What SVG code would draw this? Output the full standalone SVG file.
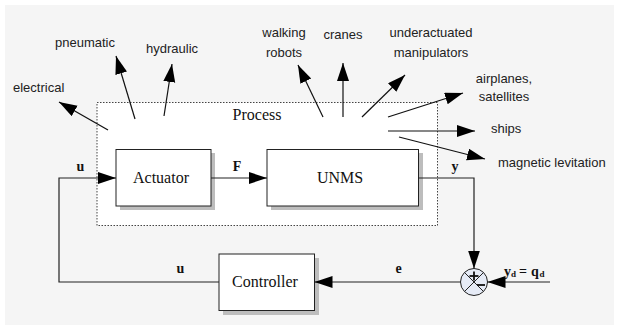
<svg xmlns="http://www.w3.org/2000/svg" width="619" height="330" viewBox="0 0 619 330">
<defs>
<style>
.bg{fill:#f5f5f5}
.box{fill:#fff;stroke:#222;stroke-width:1}
.shadow{fill:#bdbdbd}
.ln{fill:none;stroke:#222;stroke-width:1.2}
.ar{fill:none;stroke:#111;stroke-width:1.2}
.sans{font-family:"Liberation Sans",Arial,sans-serif;font-size:13px;fill:#222}
.serif{font-family:"Liberation Serif","Times New Roman",serif;font-size:16px;fill:#111}
.bold{font-family:"Liberation Serif","Times New Roman",serif;font-size:14px;font-weight:bold;fill:#111}
.sub{font-family:"Liberation Serif","Times New Roman",serif;font-size:9px;font-weight:bold;fill:#111}
</style>
<marker id="ah" markerUnits="userSpaceOnUse" markerWidth="19" markerHeight="13" refX="18" refY="6" orient="auto">
<path d="M0,0 L18,6 L0,12 z" fill="#000"/>
</marker>
</defs>
<rect class="bg" x="5" y="5" width="609" height="320"/>

<g id="process">
<rect x="97" y="102.5" width="340.5" height="123" fill="#fff" stroke="#444" stroke-width="1" stroke-dasharray="1.5,1.5"/>
<text class="serif" x="257" y="120" text-anchor="middle">Process</text>
</g>

<g id="actuator">
<rect class="shadow" x="120" y="153" width="95" height="57"/>
<rect class="box" x="116" y="149.5" width="95" height="56.5"/>
<text class="serif" x="161" y="183" text-anchor="middle">Actuator</text>
</g>

<g id="unms">
<rect class="shadow" x="271" y="153" width="152" height="57"/>
<rect class="box" x="267" y="149.5" width="151.5" height="56.5"/>
<text class="serif" x="340" y="183" text-anchor="middle">UNMS</text>
</g>

<g id="controller">
<rect class="shadow" x="223" y="258" width="96" height="57"/>
<rect class="box" x="219" y="254" width="95.5" height="56.5"/>
<text class="serif" x="265" y="287" text-anchor="middle">Controller</text>
</g>

<g id="sum">
<circle cx="474" cy="282" r="13.5" fill="#e6ebf6" stroke="#222" stroke-width="1"/>
<line x1="464.5" y1="272.5" x2="483.5" y2="291.5" stroke="#222" stroke-width="1"/>
<line x1="483.5" y1="272.5" x2="464.5" y2="291.5" stroke="#222" stroke-width="1"/>
<line x1="469.5" y1="276" x2="478.5" y2="276" stroke="#111" stroke-width="1.8"/>
<line x1="474" y1="271.5" x2="474" y2="280.5" stroke="#111" stroke-width="1.8"/>
<line x1="477" y1="285" x2="485" y2="285" stroke="#111" stroke-width="1.8"/>
</g>

<g id="connectors">
<polyline class="ln" points="219,282 59,282 59,178 116,178" marker-end="url(#ah)"/>
<line class="ln" x1="211" y1="178" x2="267" y2="178" marker-end="url(#ah)"/>
<polyline class="ln" points="418.5,178 474,178 474,268.5" marker-end="url(#ah)"/>
<line class="ln" x1="550" y1="282" x2="487.5" y2="282" marker-end="url(#ah)"/>
<line class="ln" x1="460.5" y1="282" x2="314.5" y2="282" marker-end="url(#ah)"/>

<line class="ar" x1="108" y1="130" x2="59" y2="102" marker-end="url(#ah)"/>
<line class="ar" x1="135" y1="119" x2="116" y2="56" marker-end="url(#ah)"/>
<line class="ar" x1="164" y1="116" x2="172" y2="64" marker-end="url(#ah)"/>
<line class="ar" x1="323" y1="117" x2="298" y2="65" marker-end="url(#ah)"/>
<line class="ar" x1="343" y1="117" x2="343" y2="63" marker-end="url(#ah)"/>
<line class="ar" x1="362" y1="117" x2="405" y2="75" marker-end="url(#ah)"/>
<line class="ar" x1="388" y1="117" x2="463" y2="93" marker-end="url(#ah)"/>
<line class="ar" x1="388" y1="131" x2="475" y2="131" marker-end="url(#ah)"/>
<line class="ar" x1="399" y1="137" x2="485" y2="159" marker-end="url(#ah)"/>
</g>

<g id="labels">
<text class="sans" x="13" y="92">electrical</text>
<text class="sans" x="55" y="47">pneumatic</text>
<text class="sans" x="146" y="53">hydraulic</text>
<text class="sans" x="284" y="37" text-anchor="middle">walking</text>
<text class="sans" x="284" y="56.5" text-anchor="middle">robots</text>
<text class="sans" x="343" y="39" text-anchor="middle">cranes</text>
<text class="sans" x="431" y="37" text-anchor="middle">underactuated</text>
<text class="sans" x="431" y="57" text-anchor="middle">manipulators</text>
<text class="sans" x="504" y="83" text-anchor="middle">airplanes,</text>
<text class="sans" x="504" y="101" text-anchor="middle">satellites</text>
<text class="sans" x="491" y="133">ships</text>
<text class="sans" x="498" y="167">magnetic levitation</text>

<text class="bold" x="80.5" y="171" text-anchor="middle">u</text>
<text class="bold" x="237" y="171" text-anchor="middle">F</text>
<text class="bold" x="455" y="171" text-anchor="middle">y</text>
<text class="bold" x="180.5" y="273" text-anchor="middle">u</text>
<text class="bold" x="398.5" y="273" text-anchor="middle">e</text>
<text class="bold" x="504" y="276">y</text>
<text class="sub" x="511" y="277">d</text>
<text class="bold" x="519" y="276">=</text>
<text class="bold" x="531" y="276">q</text>
<text class="sub" x="539.5" y="277">d</text>
</g>
</svg>
